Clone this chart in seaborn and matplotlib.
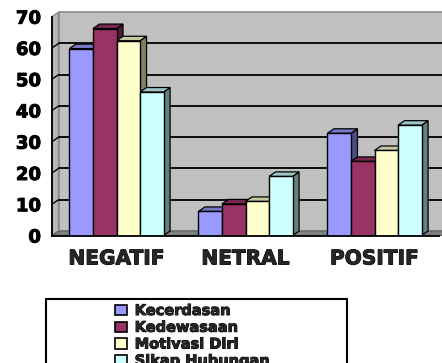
import numpy as np
import pandas as pd
import matplotlib
matplotlib.use("Agg")
import matplotlib.pyplot as plt
import matplotlib.patheffects as pe
import seaborn as sns
from matplotlib.patches import Polygon, Rectangle
from matplotlib.lines import Line2D

categories = ["NEGATIF", "NETRAL", "POSITIF"]
series = ["Kecerdasan", "Kedewasaan", "Motivasi Diri", "Sikap Hubungan"]
kecerdasan = [59.8, 7.7, 32.7]
kedewasaan = [66.2, 10.1, 23.7]
motivasi = [62.3, 10.9, 27.2]
sikap = [45.9, 18.9, 35.3]
y_ticks = [0, 10, 20, 30, 40, 50, 60, 70]

colors = ["#9999FF", "#993366", "#FFFFCC", "#CCFFFF"]

df = pd.DataFrame({
    "kategori": categories * 4,
    "aspek": sum([[s] * 3 for s in series], []),
    "nilai": kecerdasan + kedewasaan + motivasi + sikap,
})

sns.set_style("white")
plt.rcParams["font.family"] = ["DejaVu Sans"]

W, H = 442, 363
fig = plt.figure(figsize=(W / 100, H / 100), dpi=100)
ax = fig.add_axes([52 / W, (H - 235.5) / H, (439 - 52) / W, (235.5 - 16.7) / H])
ax.set_facecolor("none")

sns.barplot(data=df, x="kategori", y="nilai", hue="aspek", order=categories,
            hue_order=series, palette=colors, saturation=1, width=0.73,
            edgecolor="black", linewidth=1, ax=ax, zorder=3)

ax.set_xlim(-0.5, 2.5)
ax.set_ylim(0, 70)

# 3D offsets in data units
fig.canvas.draw()
p0 = ax.transData.transform((0, 0))
p1 = ax.transData.transform((1, 1))
dx = 6.5 / (p1[0] - p0[0])
dy = 4.5 / (p1[1] - p0[1])
x0, x1 = -0.5, 2.5

# back wall
ax.add_patch(Rectangle((x0 + dx, dy), (x1 - x0) + 0.2, 70, facecolor="#C0C0C0",
                       edgecolor="#8a8a8a", lw=1.2, zorder=0, clip_on=False))
# left wall
ax.add_patch(Polygon([(x0, 0), (x0, 70), (x0 + dx, 70 + dy), (x0 + dx, dy)],
                     closed=True, facecolor="#B8B8B8", edgecolor="#8a8a8a",
                     lw=1, zorder=0.5, clip_on=False))
# floor
ax.add_patch(Polygon([(x0, 0), (x1 + 0.2, 0), (x1 + 0.2 + dx, dy), (x0 + dx, dy)],
                     closed=True, facecolor="#808080", edgecolor="#606060",
                     lw=0.8, zorder=0.6, clip_on=False))
# gridlines
for v in y_ticks[1:-1]:
    ax.add_line(Line2D([x0 + dx, x1 + 0.2], [v + dy, v + dy], color="black",
                       lw=1.3, zorder=0.7, clip_on=False))
    ax.add_line(Line2D([x0, x0 + dx], [v, v + dy], color="black",
                       lw=1.0, zorder=0.7, clip_on=False))


def shade(c, f):
    r, g, b = matplotlib.colors.to_rgb(c)
    return (r * f, g * f, b * f)


n_cat = len(categories)
for j in range(n_cat):
    for i, cont in enumerate(ax.containers):
        bar = cont.patches[j]
        x = bar.get_x()
        w = bar.get_width()
        h = bar.get_height()
        fc = colors[i]
        side = Polygon([(x + w, 0), (x + w, h), (x + w + dx, h + dy), (x + w + dx, dy)],
                       closed=True, facecolor=shade(fc, 0.5), edgecolor="black",
                       lw=0.9, zorder=2, clip_on=False)
        top = Polygon([(x, h), (x + w, h), (x + w + dx, h + dy), (x + dx, h + dy)],
                      closed=True, facecolor=shade(fc, 0.78), edgecolor="black",
                      lw=0.9, zorder=2, clip_on=False)
        ax.add_patch(side)
        ax.add_patch(top)

heavy = [pe.withStroke(linewidth=0.7, foreground="black")]

# legend
handles, labels = ax.get_legend_handles_labels()
if ax.get_legend() is not None:
    ax.get_legend().remove()
for hnd in handles:
    hnd.set_edgecolor("black")
    hnd.set_linewidth(1.2)
fig.add_artist(Rectangle((46 / W, (H - 390) / H), (347 - 46) / W, 91 / H,
                         transform=fig.transFigure, facecolor="white",
                         edgecolor="black", lw=1.5, clip_on=False))
leg = fig.legend(handles, labels, loc="upper left",
                 bbox_to_anchor=(115 / W, 1 - 303 / H), frameon=False,
                 borderpad=0, borderaxespad=0, handlelength=0.8,
                 handleheight=0.7, handletextpad=0.55, labelspacing=0.12,
                 prop={"weight": "bold", "size": 10.5})
for t in leg.get_texts():
    t.set_path_effects(heavy)

# axes styling
for s in ["top", "right"]:
    ax.spines[s].set_visible(False)
for s in ["left", "bottom"]:
    ax.spines[s].set_color("black")
    ax.spines[s].set_linewidth(1.3)
    ax.spines[s].set_zorder(4)

ax.set_yticks(y_ticks)
ax.set_yticklabels([str(v) for v in y_ticks], fontweight="bold", fontsize=13)
ax.tick_params(axis="y", direction="out", length=6, width=1.2, pad=2, colors="black")

ax.set_xticks([-0.5, 0.5, 1.5, 2.5])
ax.set_xticklabels([])
ax.set_xticks([0, 1, 2], minor=True)
ax.set_xticklabels(categories, minor=True, fontweight="bold", fontsize=14.5)
ax.tick_params(axis="x", which="major", direction="out", length=5, width=1.2)
ax.tick_params(axis="x", which="minor", length=0, pad=10)
ax.set_xlabel("")
ax.set_ylabel("")
for t in ax.get_yticklabels() + ax.get_xticklabels(minor=True):
    t.set_path_effects(heavy)

fig.savefig("out.png", dpi=100)
